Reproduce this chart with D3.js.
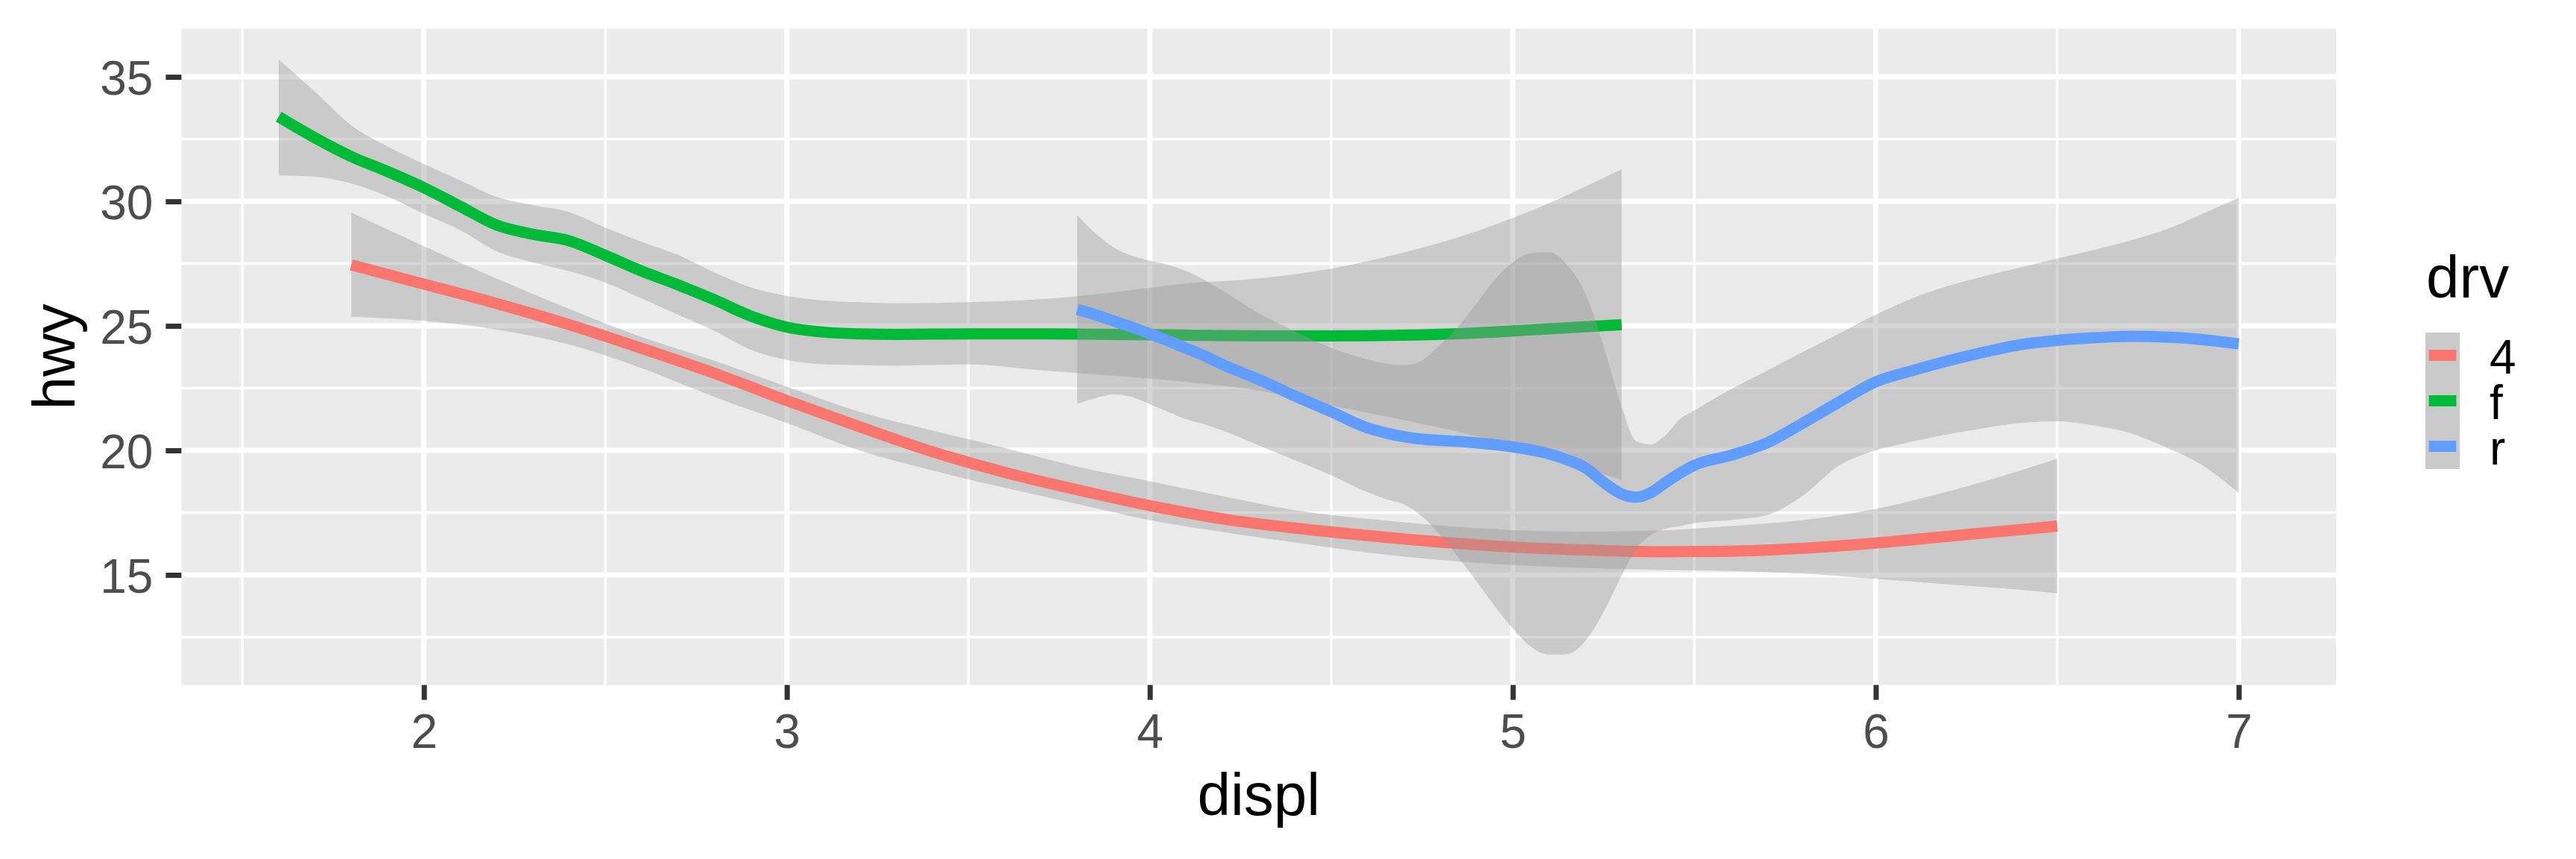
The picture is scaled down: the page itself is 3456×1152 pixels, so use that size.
<!DOCTYPE html>
<html><head><meta charset="utf-8">
<script src="https://cdn.jsdelivr.net/npm/d3@7"></script>
<style>
html,body{margin:0;padding:0;background:#ffffff;}
svg{display:block;font-family:"Liberation Sans",Arial,Helvetica,sans-serif;}
</style>
</head><body><div id="chart"></div>
<script>
// ---------- data ----------
const drvLevels = ["4", "f", "r"];
const drvColors = ["#F8766D", "#00BA38", "#619CFF"];
const xTicks = [2, 3, 4, 5, 6, 7];
const yTicks = [15, 20, 25, 30, 35];
const xMinor = [1.5, 2.5, 3.5, 4.5, 5.5, 6.5];
const yMinor = [12.5, 17.5, 22.5, 27.5, 32.5];
const xDomain = [1.332, 7.268];
const yDomain = [10.58, 36.94];

// drv = 4
const x4   = [1.8, 2.0, 2.2, 2.4, 2.6, 2.8, 3.0, 3.2, 3.4, 3.6, 3.8, 4.0, 4.2, 4.4, 4.6, 4.8, 5.0, 5.2, 5.4, 5.6, 5.8, 6.0, 6.2, 6.4, 6.5];
const fit4 = [27.45, 26.68, 25.9, 25.05, 24.1, 23.1, 22.0, 20.95, 19.95, 19.12, 18.42, 17.78, 17.25, 16.88, 16.58, 16.32, 16.12, 16.0, 15.93, 15.95, 16.07, 16.28, 16.55, 16.82, 16.96];
const lo4  = [25.37, 25.2, 24.85, 24.25, 23.3, 22.15, 21.1, 20.0, 19.2, 18.5, 17.85, 17.2, 16.72, 16.3, 15.9, 15.6, 15.4, 15.28, 15.2, 15.16, 15.05, 14.84, 14.62, 14.4, 14.26];
const hi4  = [29.55, 28.2, 26.9, 25.68, 24.55, 23.6, 22.56, 21.55, 20.8, 20.1, 19.35, 18.76, 18.17, 17.6, 17.25, 16.98, 16.8, 16.74, 16.78, 16.96, 17.2, 17.65, 18.35, 19.2, 19.66];

// drv = f
const xF   = [1.6, 1.7, 1.8, 1.9, 2.0, 2.1, 2.2, 2.3, 2.4, 2.5, 2.6, 2.7, 2.8, 2.9, 3.0, 3.1, 3.2, 3.3, 3.5, 3.7, 3.9, 4.1, 4.3, 4.5, 4.7, 4.9, 5.1, 5.3];
const fitF = [33.4, 32.55, 31.8, 31.2, 30.55, 29.8, 29.05, 28.68, 28.42, 27.83, 27.2, 26.65, 26.05, 25.4, 24.95, 24.75, 24.68, 24.66, 24.68, 24.68, 24.66, 24.63, 24.6, 24.6, 24.63, 24.72, 24.88, 25.05];
const loF  = [31.04, 30.99, 30.72, 30.2, 29.5, 28.85, 28.0, 27.55, 27.2, 26.74, 26.1, 25.45, 24.8, 24.05, 23.63, 23.46, 23.42, 23.4, 23.45, 23.22, 23.0, 22.75, 22.4, 21.8, 21.22, 20.57, 19.75, 18.8];
const hiF  = [35.7, 34.4, 33.05, 32.2, 31.5, 30.85, 30.18, 29.85, 29.57, 28.95, 28.38, 27.85, 27.15, 26.55, 26.2, 26.02, 25.95, 25.91, 25.95, 26.07, 26.35, 26.7, 26.9, 27.3, 27.95, 28.8, 29.93, 31.3];

// drv = r
const xR   = [3.8, 3.85, 3.9, 3.95, 4.0, 4.05, 4.1, 4.15, 4.2, 4.3, 4.4, 4.5, 4.6, 4.65, 4.7, 4.75, 4.8, 4.85, 4.9, 4.95, 5.0, 5.05, 5.1, 5.15, 5.2, 5.25, 5.3, 5.34, 5.38, 5.42, 5.46, 5.5, 5.6, 5.7, 5.8, 5.9, 6.0, 6.1, 6.2, 6.3, 6.4, 6.5, 6.6, 6.7, 6.8, 6.9, 7.0];
const fitR = [25.66, 25.45, 25.2, 24.95, 24.68, 24.4, 24.1, 23.8, 23.45, 22.85, 22.18, 21.55, 20.9, 20.7, 20.55, 20.45, 20.4, 20.36, 20.3, 20.23, 20.14, 20.02, 19.86, 19.62, 19.3, 18.72, 18.25, 18.12, 18.3, 18.7, 19.08, 19.4, 19.8, 20.3, 21.1, 21.95, 22.75, 23.2, 23.6, 23.95, 24.25, 24.42, 24.52, 24.58, 24.55, 24.45, 24.28];
const loR  = [21.87, 22.1, 22.25, 22.15, 21.85, 21.55, 21.25, 21.05, 20.8, 20.2, 19.6, 19.0, 18.32, 18.05, 17.83, 17.35, 16.6, 15.7, 14.75, 13.75, 12.85, 12.12, 11.8, 11.82, 12.35, 13.5, 14.98, 16.05, 16.6, 16.85, 16.95, 17.08, 17.2, 17.4, 18.2, 19.4, 20.0, 20.35, 20.65, 20.9, 21.1, 21.17, 21.0, 20.7, 20.12, 19.4, 18.29];
const hiR  = [29.44, 28.72, 28.15, 27.82, 27.62, 27.45, 27.2, 26.85, 26.42, 25.5, 24.78, 24.12, 23.65, 23.48, 23.42, 23.62, 24.25, 24.98, 25.9, 26.85, 27.55, 27.92, 27.95, 27.45, 26.3, 24.2, 21.75, 20.37, 20.24, 20.6, 21.25, 21.6, 22.45, 23.2, 23.95, 24.7, 25.45, 26.1, 26.6, 27.0, 27.35, 27.7, 28.05, 28.42, 28.87, 29.5, 30.15];

// ---------- layout ----------
const W = 3456, H = 1152;
const P = {l: 243.4, r: 3134, t: 38.3, b: 918.6};
const tickFont = 64, titleFont = 80;
const majorW = 7, minorW = 3.5;

const svg = d3.select("#chart").append("svg")
  .attr("width", W).attr("height", H).attr("viewBox", `0 0 ${W} ${H}`);
svg.append("rect").attr("width", W).attr("height", H).attr("fill", "#ffffff");

const x = d3.scaleLinear().domain(xDomain).range([P.l, P.r]);
const y = d3.scaleLinear().domain(yDomain).range([P.b, P.t]);

// panel
svg.append("rect").attr("x", P.l).attr("y", P.t)
  .attr("width", P.r - P.l).attr("height", P.b - P.t).attr("fill", "#EBEBEB");

const grid = svg.append("g");
grid.selectAll(".ymin").data(yMinor).join("line")
  .attr("x1", P.l).attr("x2", P.r).attr("y1", d => y(d)).attr("y2", d => y(d))
  .attr("stroke", "#ffffff").attr("stroke-width", minorW);
grid.selectAll(".xmin").data(xMinor).join("line")
  .attr("y1", P.t).attr("y2", P.b).attr("x1", d => x(d)).attr("x2", d => x(d))
  .attr("stroke", "#ffffff").attr("stroke-width", minorW);
grid.selectAll(".ymaj").data(yTicks).join("line")
  .attr("x1", P.l).attr("x2", P.r).attr("y1", d => y(d)).attr("y2", d => y(d))
  .attr("stroke", "#ffffff").attr("stroke-width", majorW);
grid.selectAll(".xmaj").data(xTicks).join("line")
  .attr("y1", P.t).attr("y2", P.b).attr("x1", d => x(d)).attr("x2", d => x(d))
  .attr("stroke", "#ffffff").attr("stroke-width", majorW);

// smooths
const groups = [
  {xs: x4, fit: fit4, lo: lo4, hi: hi4},
  {xs: xF, fit: fitF, lo: loF, hi: hiF},
  {xs: xR, fit: fitR, lo: loR, hi: hiR}
];
const area = d3.area().curve(d3.curveMonotoneX)
  .x(d => x(d.x)).y0(d => y(d.lo)).y1(d => y(d.hi));
const line = d3.line().curve(d3.curveMonotoneX)
  .x(d => x(d.x)).y(d => y(d.fit));

const plot = svg.append("g");
groups.forEach((g, i) => {
  const pts = g.xs.map((v, k) => ({x: v, fit: g.fit[k], lo: g.lo[k], hi: g.hi[k]}));
  plot.append("path").datum(pts).attr("d", area)
    .attr("fill", "#999999").attr("fill-opacity", 0.4).attr("stroke", "none");
  plot.append("path").datum(pts).attr("d", line)
    .attr("fill", "none").attr("stroke", drvColors[i]).attr("stroke-width", 15)
    .attr("stroke-linecap", "butt").attr("stroke-linejoin", "round");
});

// axes
const xAxis = d3.axisBottom(x).tickValues(xTicks).tickSize(20).tickPadding(19).tickFormat(d3.format("d"));
const gx = svg.append("g").attr("transform", `translate(0,${P.b})`).call(xAxis);
gx.select(".domain").remove();
gx.selectAll(".tick line").attr("stroke", "#333333").attr("stroke-width", majorW);
gx.selectAll(".tick text").attr("fill", "#4D4D4D").attr("font-size", tickFont)
  .attr("font-family", "Liberation Sans, Arial, sans-serif");

const yAxis = d3.axisLeft(y).tickValues(yTicks).tickSize(21).tickPadding(17).tickFormat(d3.format("d"));
const gy = svg.append("g").attr("transform", `translate(${P.l},0)`).call(yAxis);
gy.select(".domain").remove();
gy.selectAll(".tick line").attr("stroke", "#333333").attr("stroke-width", majorW);
gy.selectAll(".tick text").attr("fill", "#4D4D4D").attr("font-size", tickFont)
  .attr("font-family", "Liberation Sans, Arial, sans-serif").attr("dy", "0.36em");

// axis titles
svg.append("text").attr("x", (P.l + P.r) / 2).attr("y", 1093)
  .attr("text-anchor", "middle").attr("font-size", titleFont).attr("fill", "#000000").text("displ");
svg.append("text").attr("transform", `translate(99.5,${(P.t + P.b) / 2}) rotate(-90)`)
  .attr("text-anchor", "middle").attr("font-size", titleFont).attr("fill", "#000000").text("hwy");

// legend
const L = {x: 3254, y: 446, kw: 46, kh: 61};
svg.append("text").attr("x", 3255).attr("y", 399).attr("font-size", titleFont)
  .attr("fill", "#000000").text("drv");
const lg = svg.append("g");
drvLevels.forEach((lv, i) => {
  const ky = L.y + i * L.kh;
  lg.append("rect").attr("x", L.x).attr("y", ky).attr("width", L.kw).attr("height", L.kh).attr("fill", "#EBEBEB");
  lg.append("rect").attr("x", L.x).attr("y", ky).attr("width", L.kw).attr("height", L.kh)
    .attr("fill", "#999999").attr("fill-opacity", 0.4);
  lg.append("line").attr("x1", L.x + 4.6).attr("x2", L.x + L.kw - 4.6)
    .attr("y1", ky + L.kh / 2).attr("y2", ky + L.kh / 2)
    .attr("stroke", drvColors[i]).attr("stroke-width", 15);
  lg.append("text").attr("x", 3340).attr("y", ky + L.kh / 2 + 24)
    .attr("font-size", tickFont).attr("fill", "#000000").text(lv);
});
</script>
</body></html>
